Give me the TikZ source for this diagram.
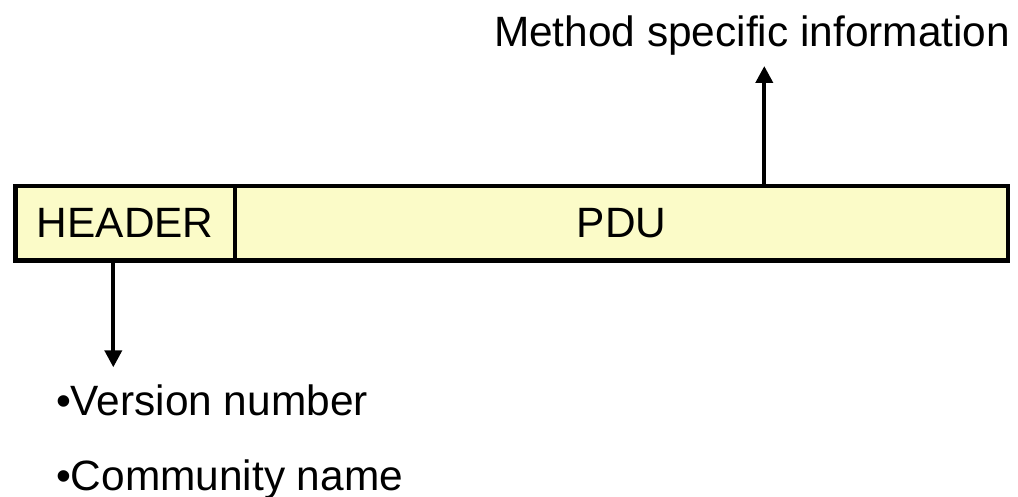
\documentclass[tikz,border=0pt]{standalone}
\usepackage{fontspec}
\setmainfont{Liberation Sans}
\usetikzlibrary{arrows.meta}
\definecolor{cellfill}{HTML}{FBFBC8}
\tikzset{
  cell/.style={draw=black, fill=cellfill, line width=4.2pt, rectangle,
    inner sep=0pt, outer sep=0pt, minimum height=74.2pt,
    font=\fontsize{42.4}{50}\selectfont},
  label/.style={inner sep=0pt, outer sep=0pt, font=\fontsize{42.4}{50}\selectfont},
  arr/.style={draw=black, line width=3.9pt,
    -{Triangle[width=17pt,length=17pt]}}
}
\begin{document}
\begin{tikzpicture}[x=1pt,y=-1pt]
  \useasboundingbox (0,0) rectangle (1018,497);
  % the message: header cell followed by the PDU cell
  \node[cell, anchor=north west, minimum width=219.5pt] (hdr) at (15.5,186.3) {HEADER};
  \node[cell, anchor=north west, minimum width=773pt] (pdu) at (235,186.3) {PDU};
  % labels
  \node[label, anchor=base west] (meth) at (494,47) {Method specific information};
  \node[label, anchor=base west] (ver) at (56,415) {•Version number};
  \node[label, anchor=base west] (comm) at (56,490) {•Community name};
  % arrow end points
  \coordinate (mtip) at (764.3,66);
  \coordinate (dtip) at (113.3,367.3);
  \draw[arr] (pdu.north -| mtip) -- (mtip);
  \draw[arr] (hdr.south -| dtip) -- (dtip);
\end{tikzpicture}
\end{document}
